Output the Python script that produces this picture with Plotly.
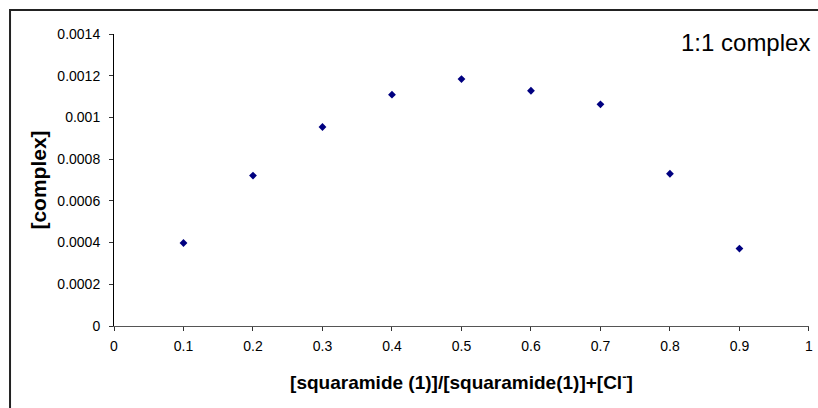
import plotly.graph_objects as go

mole_fraction = [0.1, 0.2, 0.3, 0.4, 0.5, 0.6, 0.7, 0.8, 0.9]
complex_conc = [0.000398, 0.000721, 0.000954, 0.001109, 0.001184, 0.001128, 0.001063, 0.000730, 0.000371]

x_ticks = [0, 0.1, 0.2, 0.3, 0.4, 0.5, 0.6, 0.7, 0.8, 0.9, 1]
x_tick_labels = ["0", "0.1", "0.2", "0.3", "0.4", "0.5", "0.6", "0.7", "0.8", "0.9", "1"]
y_ticks = [0, 0.0002, 0.0004, 0.0006, 0.0008, 0.001, 0.0012, 0.0014]
y_tick_labels = ["0", "0.0002", "0.0004", "0.0006", "0.0008", "0.001", "0.0012", "0.0014"]

FONT = "Liberation Sans, Arial, sans-serif"

fig = go.Figure()
fig.add_trace(go.Scatter(
    x=mole_fraction, y=complex_conc, mode="markers",
    marker=dict(symbol="diamond", size=6, color="#000080"),
    showlegend=False, cliponaxis=False,
))

fig.update_layout(
    width=818, height=408,
    margin=dict(l=114, r=9, t=34, b=82, autoexpand=False),
    paper_bgcolor="white", plot_bgcolor="white",
    font=dict(family=FONT, color="black", size=14),
    xaxis=dict(
        range=[0, 1.0001], tickvals=x_ticks, ticktext=x_tick_labels,
        showgrid=False, zeroline=False, automargin=False,
        showline=True, linecolor="#555555", linewidth=1,
        ticks="outside", ticklen=4, tickcolor="#333333",
        tickfont=dict(size=14), ticklabelstandoff=3,
        title=dict(text="[squaramide (1)]/[squaramide(1)]+[Cl<sup>-</sup>]",
                   font=dict(size=19, family=FONT, weight="bold"), standoff=22),
    ),
    yaxis=dict(
        range=[0, 0.0014], tickvals=y_ticks, ticktext=y_tick_labels,
        showgrid=False, zeroline=False, automargin=False,
        showline=True, linecolor="black", linewidth=1,
        ticks="outside", ticklen=4, tickcolor="#333333",
        tickfont=dict(size=14), ticklabelstandoff=6,
        title=dict(text="[complex]", font=dict(size=21, family=FONT, weight="bold"), standoff=5),
    ),
    shapes=[dict(type="rect", xref="paper", yref="paper",
                 x0=-0.1496, x1=1.2, y0=-0.5, y1=1.082,
                 line=dict(color="#222222", width=2), fillcolor="rgba(0,0,0,0)", layer="above")],
    annotations=[dict(text="1:1 complex", xref="paper", yref="paper",
                      x=1.005, y=1.025, xanchor="right", yanchor="top",
                      showarrow=False, font=dict(size=24, family=FONT))],
)

fig.write_html("out.html", config={"displayModeBar": False},
               post_script="document.body.style.margin='0';")
